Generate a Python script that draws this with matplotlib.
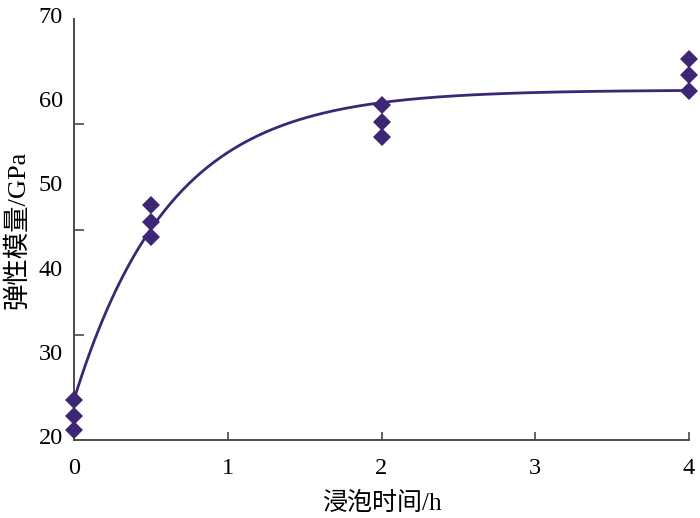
import numpy as np
import matplotlib
matplotlib.use("Agg")
import matplotlib.pyplot as plt
import matplotlib.transforms as mtransforms

# ---- data ----
soak_time = [0, 0, 0, 0.5, 0.5, 0.5, 2, 2, 2, 4, 4, 4]
modulus = [24.8, 22.9, 21.2, 47.9, 45.9, 44.1, 59.8, 57.8, 56.0, 65.3, 63.4, 61.5]

# fitted curve parameters: E = a - b*exp(-k t)
fit_a = 61.6
fit_b = 36.8
fit_k = 1.6

x_ticks = [0, 1, 2, 3, 4]
y_labels = [20, 30, 40, 50, 60, 70]
y_tick_marks = [20, 32.5, 45, 57.5, 70]

xlabel = "浸泡时间/h"
ylabel = "弹性模量/GPa"

color = "#3d2775"
axis_color = "#4a4a4a"

plt.rcParams['font.family'] = ['Liberation Serif', 'Noto Sans CJK SC', 'DejaVu Sans']

fig = plt.figure(figsize=(7.0, 5.18), dpi=100)
ax = fig.add_axes([74/700, 78/518, (689-74)/700, (440-19.3)/518])

t = np.linspace(0, 4, 300)
ax.plot(t, fit_a - fit_b*np.exp(-fit_k*t), color=color, lw=2.0, zorder=2, clip_on=False)
ax.plot(soak_time, modulus, linestyle='none', marker='D', ms=9.5, color=color,
        markeredgewidth=0, zorder=3, clip_on=False)

ax.set_xlim(0, 4)
ax.set_ylim(20, 70)

for s in ['top', 'right']:
    ax.spines[s].set_visible(False)
for s in ['left', 'bottom']:
    ax.spines[s].set_color(axis_color)
    ax.spines[s].set_linewidth(1.4)

ax.set_xticks(x_ticks)
ax.set_xticklabels([str(v) for v in x_ticks], fontsize=17.5)
ax.tick_params(axis='x', direction='in', length=6, width=1.2, color=axis_color, pad=13)

# y labels (evenly every 10) without marks; marks placed separately
ax.set_yticks(y_labels)
ax.set_yticklabels([str(v) for v in y_labels], fontsize=17.5)
ax.tick_params(axis='y', which='major', length=0, pad=8)
offset = mtransforms.ScaledTranslation(0, 3/72, fig.dpi_scale_trans)
for lab in ax.get_yticklabels():
    lab.set_transform(lab.get_transform() + offset)
ax.set_yticks(y_tick_marks, minor=True)
ax.tick_params(axis='y', which='minor', direction='in', length=7, width=1.2, color=axis_color)

ax.set_xlabel(xlabel, fontsize=18, labelpad=9)
ax.set_ylabel(ylabel, fontsize=19, labelpad=7)

fig.savefig("out.png", dpi=100)
